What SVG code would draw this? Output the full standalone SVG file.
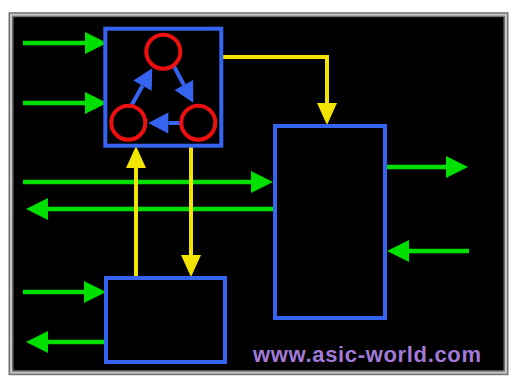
<svg xmlns="http://www.w3.org/2000/svg" width="512" height="381" viewBox="0 0 512 381">
  <style>
    .box { fill: none; stroke: #3565f0; stroke-width: 4; }
    .ring { fill: none; stroke: #ee0f0f; stroke-width: 4; }
    .g { fill: none; stroke: #00e000; stroke-width: 4.5; marker-end: url(#gh); }
    .y { fill: none; stroke: #f2e400; stroke-width: 4; marker-end: url(#yh); }
    .b { fill: none; stroke: #3565f0; stroke-width: 4; marker-end: url(#bh); }
    .site { font-family: "Liberation Sans", Arial, sans-serif; font-weight: bold; font-size: 22px; fill: #a27ad8; }
  </style>
  <defs>
    <marker id="gh" markerUnits="userSpaceOnUse" markerWidth="22" markerHeight="22" refX="0" refY="11" orient="auto" overflow="visible">
      <path d="M0,0 L22,11 L0,22 z" fill="#00e000"/>
    </marker>
    <marker id="yh" markerUnits="userSpaceOnUse" markerWidth="22" markerHeight="20" refX="0" refY="10" orient="auto" overflow="visible">
      <path d="M0,0 L22,10 L0,20 z" fill="#f2e400"/>
    </marker>
    <marker id="bh" markerUnits="userSpaceOnUse" markerWidth="20" markerHeight="21" refX="0" refY="10.5" orient="auto" overflow="visible">
      <path d="M0,0 L20,10.5 L0,21 z" fill="#3565f0"/>
    </marker>
  </defs>
  <rect x="0" y="0" width="512" height="381" fill="#ffffff"/>
  <g id="frame">
    <rect x="11" y="14.7" width="495" height="358" fill="#000000" stroke="#707070" stroke-width="5"/>
    <rect x="11" y="14.7" width="495" height="358" fill="none" stroke="#c4c4c4" stroke-width="2"/>
  </g>
  <g id="connectors">
    <path class="g" d="M23,43 H85"/>
    <path class="g" d="M23,103 H85"/>
    <path class="g" d="M23,182 H251"/>
    <path class="g" d="M275,209 H48"/>
    <path class="g" d="M23,292 H84"/>
    <path class="g" d="M108,342 H48"/>
    <path class="g" d="M385,167 H446"/>
    <path class="g" d="M469,251 H409"/>
    <path class="y" d="M222,57 H327 V103"/>
    <path class="y" d="M136,278 V168"/>
    <path class="y" d="M191,146 V255"/>
    <path class="b" d="M131.7,105 L142.5,85.7"/>
    <path class="b" d="M173.3,65 L183.9,85"/>
    <path class="b" d="M182.3,123 L168.3,123"/>
  </g>
  <g id="fsm-block">
    <rect class="box" x="105.3" y="28.7" width="116" height="117"/>
  </g>
  <g id="state-top"><circle class="ring" cx="163.3" cy="51.7" r="17"/></g>
  <g id="state-left"><circle class="ring" cx="128.3" cy="122.7" r="17"/></g>
  <g id="state-right"><circle class="ring" cx="198.3" cy="122.7" r="17"/></g>
  <g id="right-block">
    <rect class="box" x="275" y="126" width="110" height="192"/>
  </g>
  <g id="bottom-block">
    <rect class="box" x="106" y="278" width="119" height="84"/>
  </g>
  <g id="watermark">
    <text class="site" x="253" y="362" textLength="228" lengthAdjust="spacing">www.asic-world.com</text>
  </g>
</svg>
